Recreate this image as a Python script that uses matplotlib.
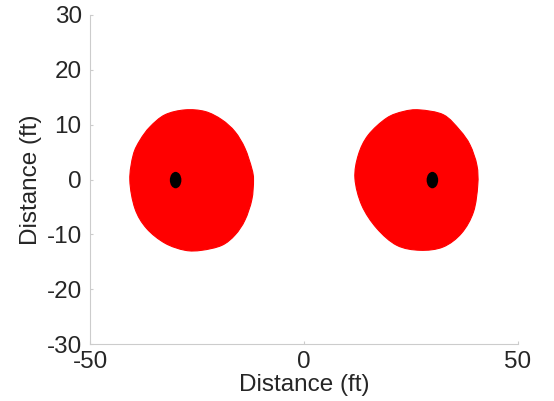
import numpy as np
import matplotlib
matplotlib.use("Agg")
import matplotlib.pyplot as plt
from matplotlib.patches import PathPatch, Ellipse
from matplotlib.path import Path

# Outline of each red zone (ft)
left_zone_x = [-27.8, -23.1, -19.2, -16.1, -13.8, -12.2, -11.8, -12.2, -13.8,
               -16.1, -19.2, -23.9, -27.8, -32.5, -36.8, -39.5, -40.7, -39.9,
               -38.3, -36.0, -32.5]
left_zone_y = [12.7, 12.4, 10.9, 8.7, 5.7, 2.0, -0.1, -3.7, -7.4,
               -10.1, -12.0, -12.9, -12.9, -11.6, -8.9, -5.3, -0.1, 4.5,
               7.2, 9.6, 11.8]

right_zone_x = [23.2, 27.0, 32.6, 36.4, 38.8, 40.4, 40.6, 39.6, 36.8,
                32.5, 27.1, 21.7, 17.0, 13.5, 11.9, 12.7, 15.0, 19.3]
right_zone_y = [12.4, 12.7, 11.8, 9.0, 6.3, 2.6, -1.0, -5.9, -9.8,
                -12.3, -12.9, -12.0, -8.9, -4.7, 0.2, 4.5, 8.1, 11.2]

# Source positions (ft)
source_x = [-30.0, 30.0]
source_y = [-0.1, -0.1]

x_ticks = [-50, 0, 50]
y_ticks = [-30, -20, -10, 0, 10, 20, 30]


def smooth_outline(xs, ys):
    # closed bezier through the traced points (catmull-rom handles)
    pts = np.column_stack([xs, ys])
    n = len(pts)
    verts = [pts[0]]
    codes = [Path.MOVETO]
    for i in range(n):
        p0, p1 = pts[i - 1], pts[i]
        p2, p3 = pts[(i + 1) % n], pts[(i + 2) % n]
        verts += [p1 + (p2 - p0) / 6, p2 - (p3 - p1) / 6, p2]
        codes += [Path.CURVE4] * 3
    return Path(verts, codes)


plt.rcParams["font.family"] = ["Liberation Sans", "DejaVu Sans"]
plt.rcParams["axes.unicode_minus"] = False

fig = plt.figure(figsize=(5.54, 4.01), dpi=100)
ax = fig.add_axes([0.1625, 0.142, 0.7725, 0.8206])

for zx, zy in [(left_zone_x, left_zone_y), (right_zone_x, right_zone_y)]:
    ax.add_patch(PathPatch(smooth_outline(zx, zy), facecolor="#ff0000",
                           edgecolor="#ff0000", linewidth=0.8))

for sx, sy in zip(source_x, source_y):
    ax.add_patch(Ellipse((sx, sy), 2.7, 3.0, facecolor="black", edgecolor="none"))

ax.set_xlim(-50, 50)
ax.set_ylim(-30, 30)
ax.set_xticks(x_ticks)
ax.set_yticks(y_ticks)

ax.set_xlabel("Distance (ft)", fontsize=17.5, color="#262626", labelpad=1)
ax.set_ylabel("Distance (ft)", fontsize=17.5, color="#262626", labelpad=3)

ax.spines["top"].set_visible(False)
ax.spines["right"].set_visible(False)
ax.spines["left"].set_color("#cccccc")
ax.spines["bottom"].set_color("#cccccc")
ax.tick_params(direction="in", length=2.5, color="#cccccc",
               labelsize=17.5, labelcolor="#262626")
ax.tick_params(axis="y", pad=6)
ax.tick_params(axis="x", pad=5)

plt.savefig("out.png", dpi=100)
